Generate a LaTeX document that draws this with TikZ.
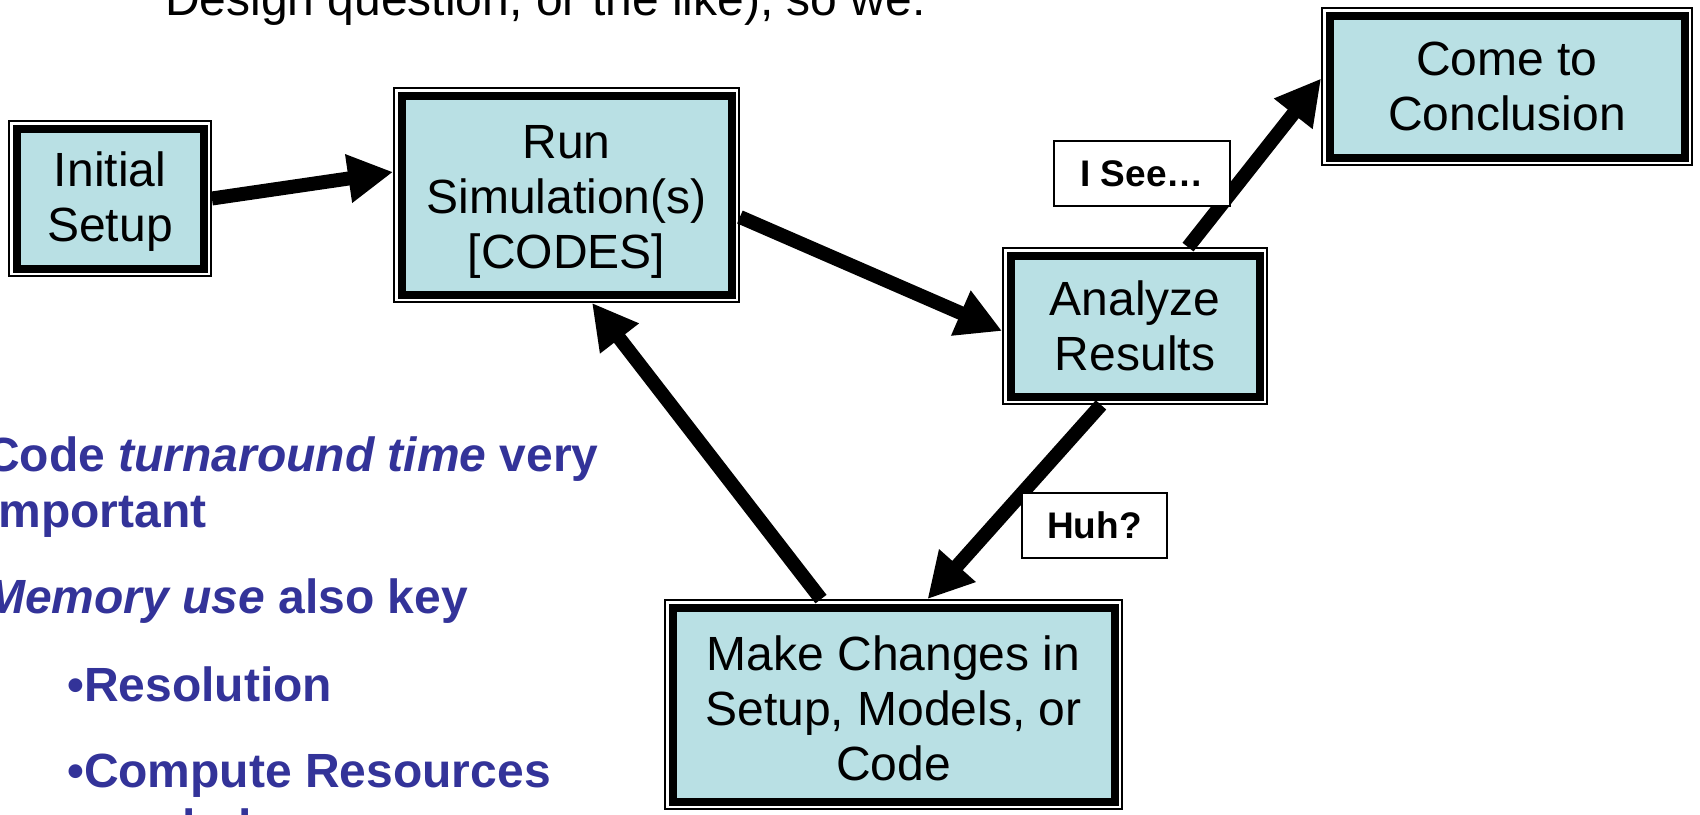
\documentclass[tikz,border=0pt]{standalone}
\usepackage{fontspec}
\setmainfont{Liberation Sans}
\usetikzlibrary{arrows.meta,calc}
\definecolor{boxfill}{RGB}{185,224,228}
\definecolor{noteblue}{RGB}{51,51,153}
% pushes the first line of a box down a little
\newcommand{\lowerby}[1]{\rule{0pt}{\dimexpr35pt+2\dimexpr#1\relax\relax}}

\begin{document}
\begin{tikzpicture}[x=1pt,y=1pt,yscale=-1,xscale=1,
  stage/.style={rectangle,fill=boxfill,draw=black,line width=8pt,
    preaction={draw=black,line width=16.8pt},
    preaction={draw=white,line width=13.4pt},
    inner sep=0pt,outer sep=8.4pt,align=center,
    font=\fontsize{48}{55}\selectfont},
  tag/.style={rectangle,fill=white,draw=black,line width=1.3pt,
    inner sep=0pt,outer sep=0pt,font=\fontsize{37}{44}\selectfont\bfseries},
  flow/.style={line width=14pt,-{Triangle[length=45pt,width=46pt]}},
  note/.style={anchor=base west,inner sep=0pt,text=noteblue,
    font=\fontsize{48}{55}\selectfont\bfseries}]
\useasboundingbox (0,0) rectangle (1700,814);

% Text Node
\draw (165,15) node (lead) [anchor=base west,inner sep=0pt,font=\fontsize{48}{55}\selectfont] {Design question, or the like), so we:};

%Shape: Rectangle
\draw (110,198.5) node (init) [stage,minimum width=187pt,minimum height=140pt] {\lowerby{3pt}Initial\\Setup};
%Shape: Rectangle
\draw (566.5,195) node (run) [stage,minimum width=330pt,minimum height=199pt] {\lowerby{5.5pt}Run\\Simulation(s)\\{[CODES]}};
%Shape: Rectangle
\draw (1135,326) node (ana) [stage,minimum width=249pt,minimum height=141pt] {Analyze\\Results};
%Shape: Rectangle
\draw (1507,86.5) node (conc) [stage,minimum width=355pt,minimum height=142pt] {Come to\\Conclusion};
%Shape: Rectangle
\draw (893.5,704.5) node (chg) [stage,minimum width=442pt,minimum height=194pt] {\lowerby{4pt}Make Changes in\\Setup, Models, or\\Code};

%Straight Lines
\draw [flow] (init.east) -- ($(run.west)+(0,-23)$);
\draw [flow] ($(run.east)+(0,22)$) -- ($(ana.west)+(0,5)$);
\draw [flow] ($(ana.north)+(53,0)$) -- ($(conc.west)+(0,-8)$);
\draw [flow] ($(ana.south)+(-34,0)$) -- ($(chg.north)+(34,0)$);
\draw [flow] ($(chg.north)+(-72.5,0)$) -- ($(run.south)+(25.5,0)$);

% Text Node
\draw (1142,173.5) node (isee) [tag,minimum width=176pt,minimum height=65pt] {I See…};
% Text Node
\draw (1094.5,525.5) node (huh) [tag,minimum width=145pt,minimum height=65pt] {Huh?};

% Text Node
\draw (-15,471) node (n1) [note] {Code \textit{turnaround time} very};
\draw (-15,527) node (n2) [note] {Important};
\draw (-15,613) node (n3) [note] {\textit{Memory use} also key};
\draw (67,701) node (n4) [note] {•Resolution};
\draw (67,787) node (n5) [note] {•Compute Resources};
\draw (84,843) node (n6) [note] {needed};

\end{tikzpicture}
\end{document}
